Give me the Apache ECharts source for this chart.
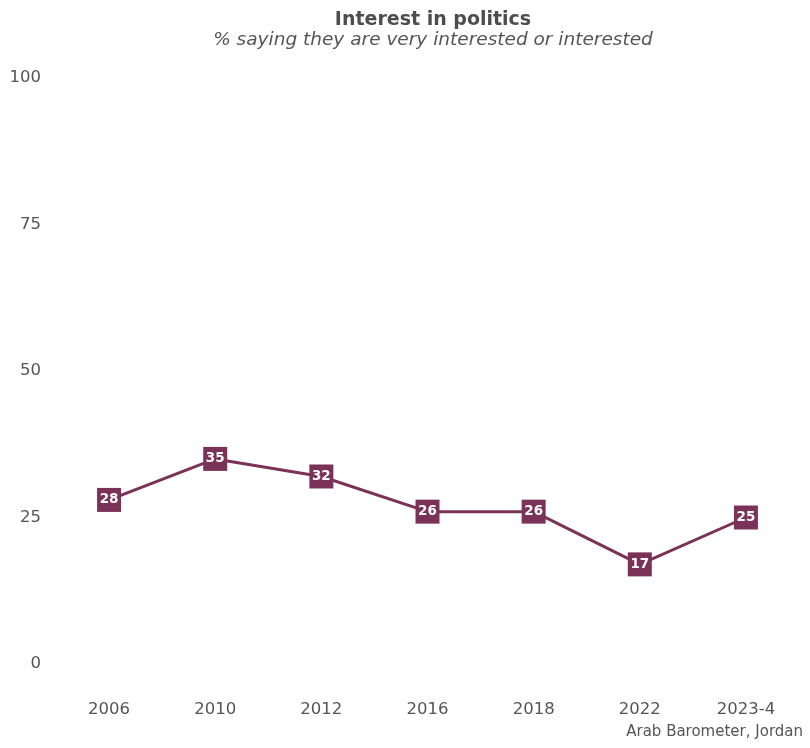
<!DOCTYPE html>
<html>
<head>
<meta charset="utf-8">
<script src="https://cdn.jsdelivr.net/npm/echarts@6/dist/echarts.min.js"></script>
<style>
  html, body { margin: 0; padding: 0; background: #fff; }
  #chart { width: 810px; height: 748px; }
</style>
</head>
<body>
<div id="chart"></div>
<script>
// Survey waves and share interested in politics (%)
const waves = ['2006', '2010', '2012', '2016', '2018', '2022', '2023-4'];
const interest = [28, 35, 32, 26, 26, 17, 25];
const yTicks = [0, 25, 50, 75, 100];

const FONT = '"DejaVu Sans", "Noto Sans", sans-serif';
const MAIN = '#7B3259';
const TEXT = '#555555';

const chart = echarts.init(document.getElementById('chart'), null, { renderer: 'canvas' });

chart.setOption({
  animation: false,
  backgroundColor: '#ffffff',
  textStyle: { fontFamily: FONT },
  title: [
    {
      text: 'Interest in politics',
      left: 428, top: 6, textAlign: 'center',
      textStyle: { fontFamily: FONT, fontSize: 19, fontWeight: 'bold', color: '#4d4d4d' }
    },
    {
      text: '% saying they are very interested or interested',
      left: 428, top: 26, textAlign: 'center',
      textStyle: { fontFamily: FONT, fontSize: 18.5, fontStyle: 'italic', fontWeight: 'normal', color: TEXT }
    },
    {
      text: 'Arab Barometer, Jordan',
      right: 2, bottom: 3,
      textStyle: { fontFamily: FONT, fontSize: 15, fontWeight: 'normal', color: TEXT }
    }
  ],
  grid: { left: 56, right: 11, top: 78, bottom: 84 },
  xAxis: {
    type: 'category',
    data: waves,
    boundaryGap: true,
    axisLine: { show: false },
    axisTick: { show: false },
    axisLabel: { color: TEXT, fontSize: 16.5, margin: 37, fontFamily: FONT }
  },
  yAxis: {
    type: 'value',
    min: yTicks[0],
    max: yTicks[yTicks.length - 1],
    interval: 25,
    splitLine: { show: false },
    axisLine: { show: false },
    axisTick: { show: false },
    axisLabel: { color: TEXT, fontSize: 16.5, margin: 15, fontFamily: FONT }
  },
  series: [{
    type: 'line',
    data: interest,
    symbol: 'rect',
    symbolSize: 24,
    lineStyle: { color: MAIN, width: 3 },
    itemStyle: { color: MAIN },
    label: {
      show: true,
      position: 'inside',
      color: '#ffffff',
      fontWeight: 'bold',
      fontSize: 13.5,
      fontFamily: FONT
    }
  }]
});
</script>
</body>
</html>
